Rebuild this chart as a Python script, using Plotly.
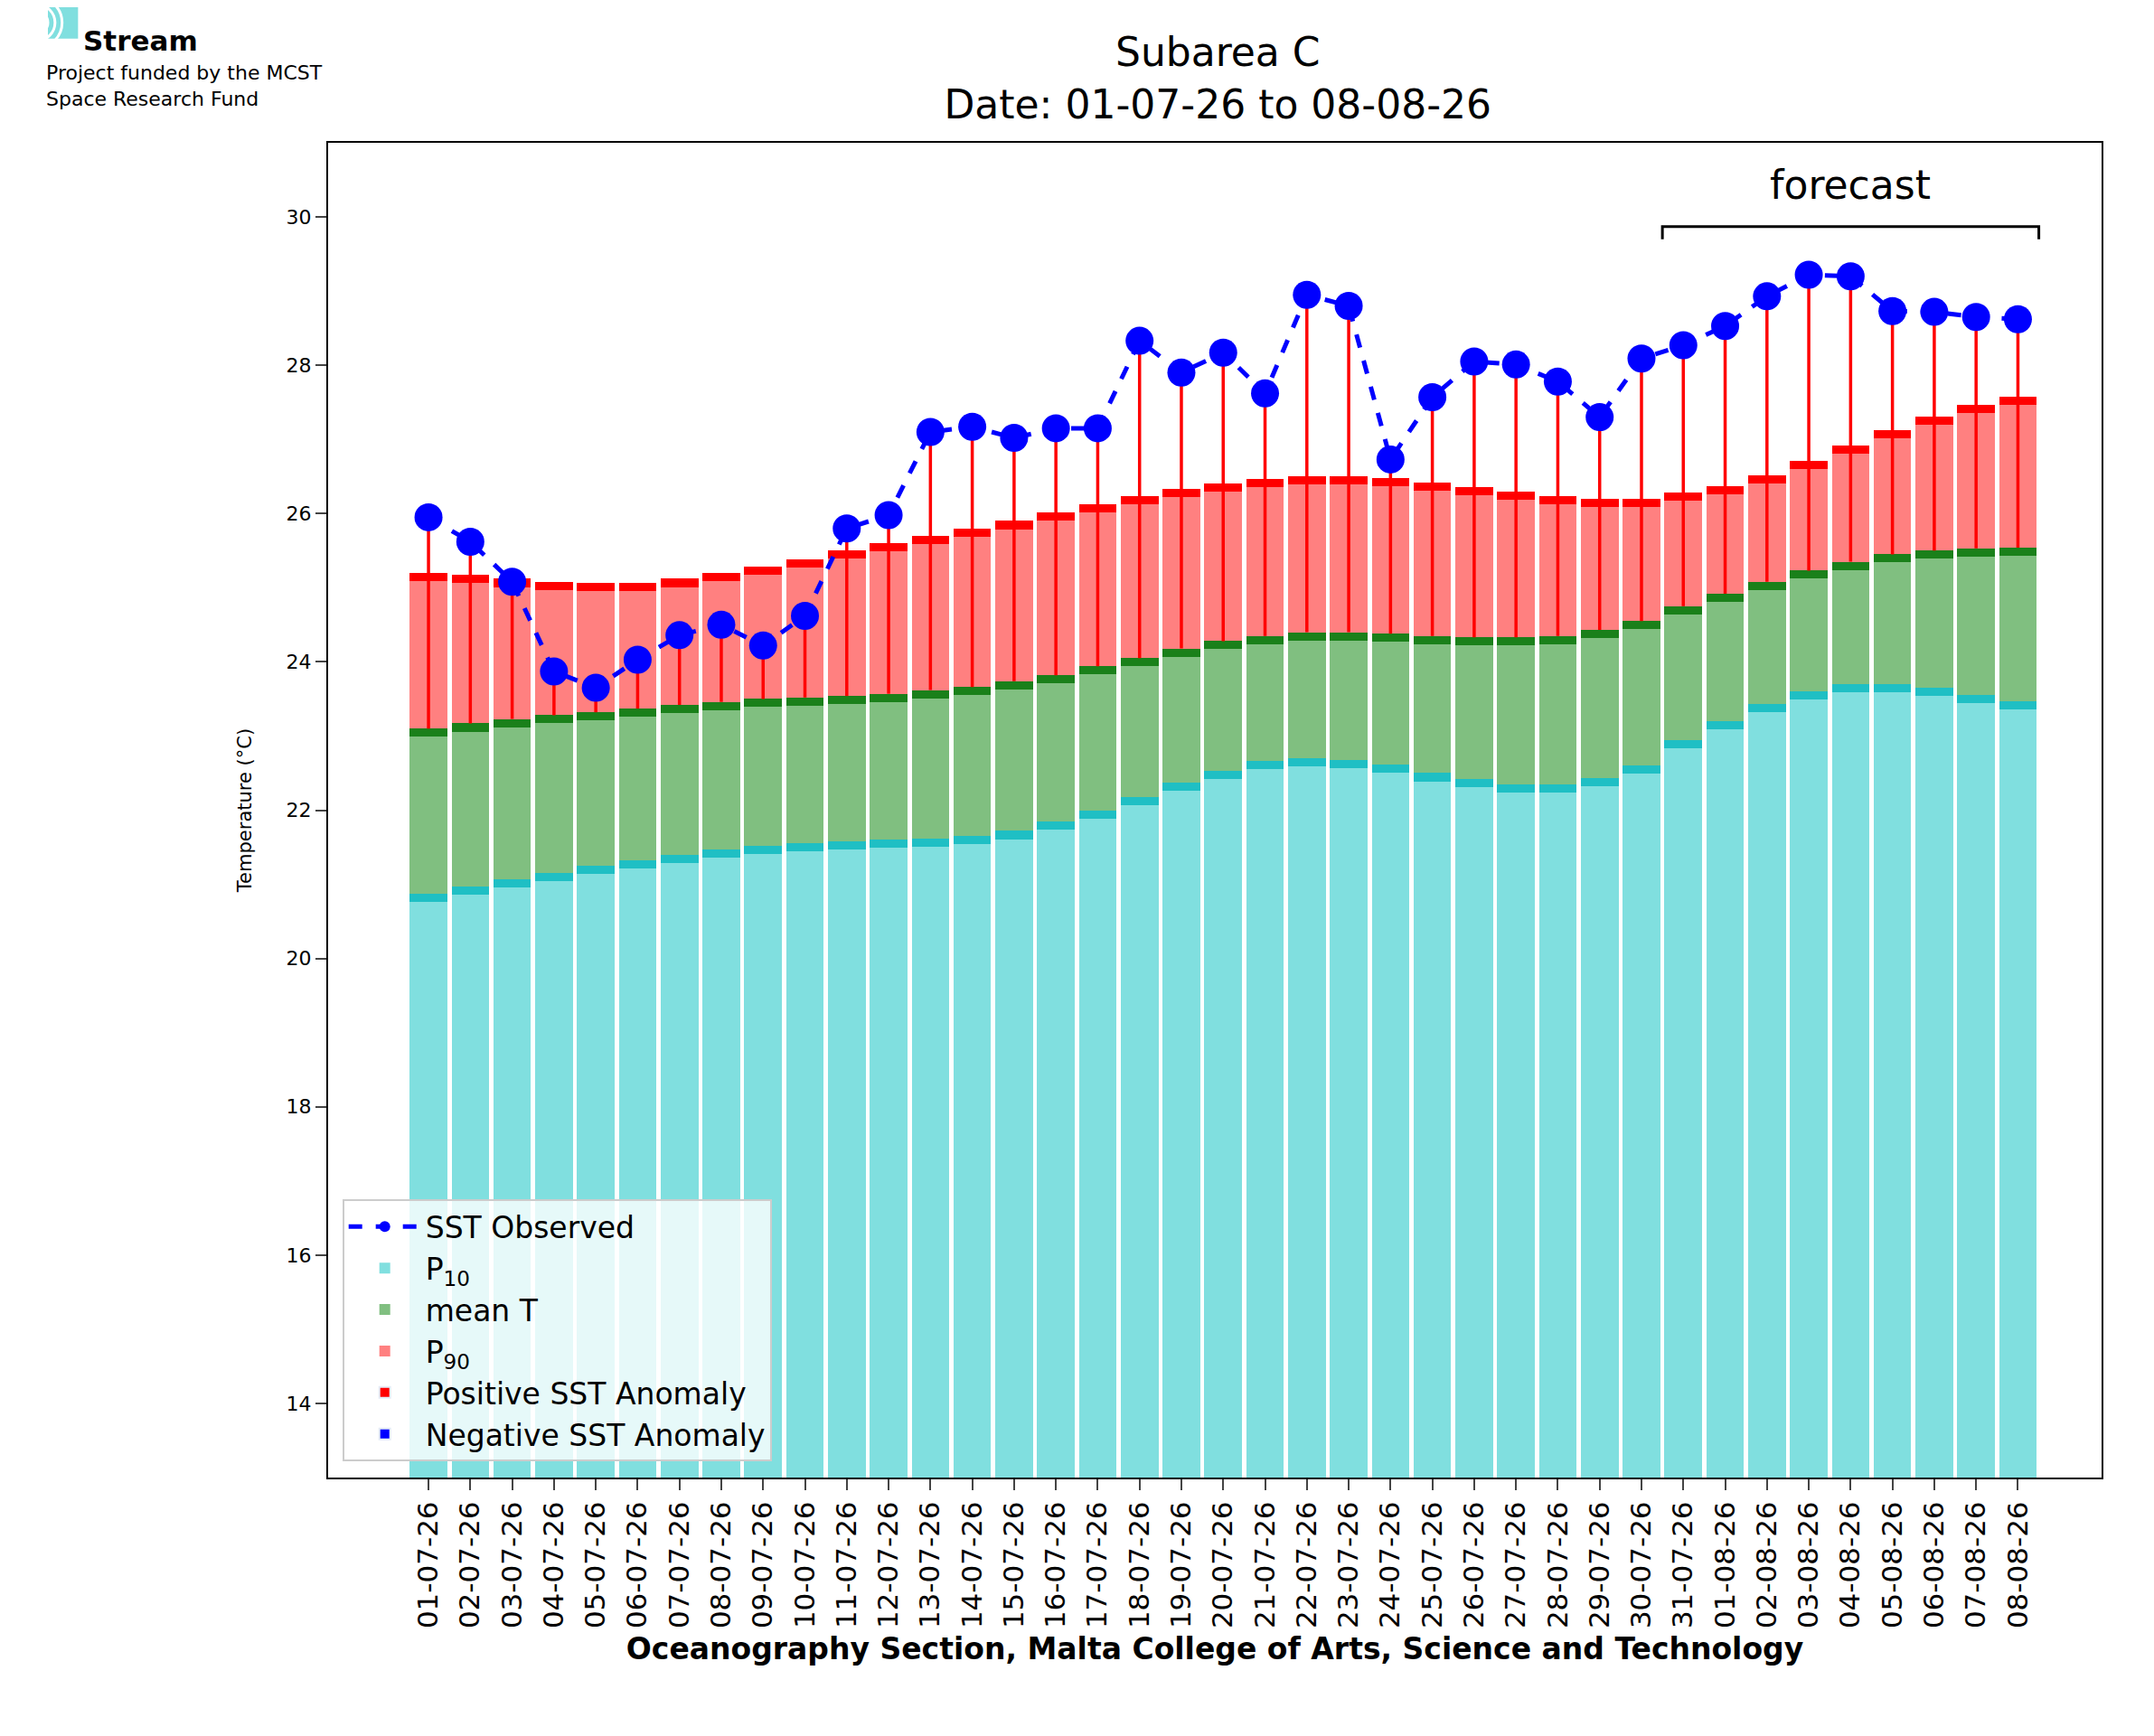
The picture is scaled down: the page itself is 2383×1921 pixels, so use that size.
import plotly.graph_objects as go

dates = ["01-07-26", "02-07-26", "03-07-26", "04-07-26", "05-07-26", "06-07-26", "07-07-26",
         "08-07-26", "09-07-26", "10-07-26", "11-07-26", "12-07-26", "13-07-26", "14-07-26",
         "15-07-26", "16-07-26", "17-07-26", "18-07-26", "19-07-26", "20-07-26", "21-07-26",
         "22-07-26", "23-07-26", "24-07-26", "25-07-26", "26-07-26", "27-07-26", "28-07-26",
         "29-07-26", "30-07-26", "31-07-26", "01-08-26", "02-08-26", "03-08-26", "04-08-26",
         "05-08-26", "06-08-26", "07-08-26", "08-08-26"]
forecast_start = "31-07-26"

sst_obs = [25.95, 25.62, 25.08, 23.87, 23.65, 24.03, 24.36, 24.50, 24.22, 24.62, 25.80, 25.98,
           27.10, 27.17, 27.02, 27.15, 27.15, 28.33, 27.90, 28.17, 27.62, 28.95, 28.80, 26.73,
           27.57, 28.05, 28.01, 27.78, 27.30, 28.09, 28.27, 28.53, 28.93, 29.22, 29.20, 28.73,
           28.72, 28.65, 28.62]
p90 = [25.20, 25.18, 25.12, 25.08, 25.06, 25.07, 25.12, 25.20, 25.28, 25.38, 25.50, 25.60,
       25.70, 25.80, 25.90, 26.02, 26.12, 26.23, 26.33, 26.40, 26.47, 26.50, 26.50, 26.48,
       26.42, 26.36, 26.30, 26.24, 26.20, 26.20, 26.28, 26.37, 26.52, 26.71, 26.92, 27.12,
       27.31, 27.47, 27.58]
mean_t = [23.10, 23.17, 23.23, 23.28, 23.32, 23.37, 23.42, 23.46, 23.50, 23.52, 23.54, 23.57,
          23.62, 23.66, 23.74, 23.82, 23.94, 24.05, 24.18, 24.28, 24.35, 24.40, 24.40, 24.38,
          24.35, 24.33, 24.33, 24.35, 24.43, 24.55, 24.75, 24.92, 25.08, 25.23, 25.35, 25.45,
          25.50, 25.53, 25.54]
p10 = [20.87, 20.97, 21.07, 21.15, 21.25, 21.32, 21.40, 21.47, 21.52, 21.55, 21.58, 21.60,
       21.62, 21.65, 21.72, 21.85, 22.00, 22.18, 22.37, 22.53, 22.66, 22.70, 22.68, 22.62,
       22.50, 22.42, 22.35, 22.35, 22.43, 22.60, 22.95, 23.20, 23.43, 23.60, 23.70, 23.70,
       23.65, 23.55, 23.47]

BAND = 0.11
W = 0.9
x = list(range(len(dates)))

fig = go.Figure()


def band_bars(top, bottom, fill, edge, name):
    fig.add_trace(go.Bar(x=x, y=[t - b for t, b in zip(top, bottom)], base=bottom, width=W,
                         marker_color=fill, marker_line_width=0, name=name))
    fig.add_trace(go.Bar(x=x, y=[BAND] * len(x), base=[t - BAND for t in top], width=W,
                         marker_color=edge, marker_line_width=0, showlegend=False))


band_bars(p10, [0] * len(x), "#80dfdf", "#1fbfc4", "P<sub>10</sub>")
band_bars(mean_t, p10, "#80bf80", "#1a801a", "mean T")
band_bars(p90, mean_t, "#ff8080", "#ff0000", "P<sub>90</sub>")

pos_x, pos_y, neg_x, neg_y = [], [], [], []
for i, (o, m) in enumerate(zip(sst_obs, mean_t)):
    if o >= m:
        pos_x += [i, i, None]
        pos_y += [m, o, None]
    else:
        neg_x += [i, i, None]
        neg_y += [m, o, None]
fig.add_trace(go.Scatter(x=pos_x, y=pos_y, mode="lines", line=dict(color="red", width=3.5),
                         showlegend=False))
if neg_x:
    fig.add_trace(go.Scatter(x=neg_x, y=neg_y, mode="lines", line=dict(color="blue", width=3.5),
                             showlegend=False))

fig.add_trace(go.Scatter(x=x, y=sst_obs, mode="lines+markers", name="SST Observed",
                         line=dict(color="blue", width=5, dash="dash"),
                         marker=dict(color="blue", size=31)))
fig.add_trace(go.Bar(x=[None], y=[None], marker_color="red", name="Positive SST Anomaly"))
fig.add_trace(go.Bar(x=[None], y=[None], marker_color="blue", name="Negative SST Anomaly"))

# forecast bracket
fs = dates.index(forecast_start) - 0.5
fe = len(dates) - 0.5
fig.add_shape(type="path", xref="x", yref="y",
              path=f"M {fs},29.7 L {fs},29.87 L {fe},29.87 L {fe},29.7",
              line=dict(color="black", width=3))
fig.add_annotation(x=(fs + fe) / 2, y=30.1, text="forecast", showarrow=False, yanchor="bottom",
                   font=dict(size=44, color="black"))

# logo
fig.add_shape(type="rect", xref="paper", yref="paper", x0=-0.158, x1=-0.141, y0=1.078, y1=1.102,
              fillcolor="#80dfdf", line_width=0)
for r in (0.006, 0.010, 0.014):
    fig.add_shape(type="circle", xref="paper", yref="paper", x0=-0.164 - r, x1=-0.164 + r,
                  y0=1.090 - r * 1.35, y1=1.090 + r * 1.35, line=dict(color="white", width=3))
fig.add_shape(type="rect", xref="paper", yref="paper", x0=-0.2, x1=-0.158, y0=1.072, y1=1.107,
              fillcolor="white", line_width=0)
fig.add_annotation(xref="paper", yref="paper", x=-0.139, y=1.090, text="<b>Stream</b>",
                   showarrow=False, xanchor="left", font=dict(size=31, color="black"))
fig.add_annotation(xref="paper", yref="paper", x=-0.160, y=1.062,
                   text="Project funded by the MCST<br>Space Research Fund", showarrow=False,
                   xanchor="left", yanchor="top", align="left", font=dict(size=22, color="black"))

fig.update_layout(
    width=2383, height=1921,
    paper_bgcolor="white", plot_bgcolor="white",
    barmode="overlay", bargap=0,
    font=dict(family="DejaVu Sans", color="black", size=20),
    title=dict(text="Subarea C<br>Date: 01-07-26 to 08-08-26", x=0.562, xanchor="center",
               y=0.966, yanchor="top", font=dict(size=44)),
    margin=dict(l=355, r=66, t=150, b=294),
    showlegend=True,
    legend=dict(x=0.008, y=0.012, xanchor="left", yanchor="bottom", bgcolor="rgba(255,255,255,0.8)",
                bordercolor="#cccccc", borderwidth=2, font=dict(size=33), traceorder="normal",
                itemsizing="constant", itemwidth=80),
    xaxis=dict(range=[-2.4, len(dates) + 1.0], tickmode="array", tickvals=x, ticktext=dates,
               tickangle=-90, ticks="outside", ticklen=12, tickwidth=2, showgrid=False,
               showline=True, linecolor="black", linewidth=2, mirror=True,
               tickfont=dict(size=31),
               title=dict(text="<b>Oceanography Section, Malta College of Arts, Science and Technology</b>",
                          font=dict(size=33), standoff=12)),
    yaxis=dict(range=[13, 31], dtick=2, tick0=14, ticks="outside", ticklen=12, tickwidth=2,
               showgrid=False, zeroline=False, showline=True, linecolor="black", linewidth=2,
               mirror=True, tickfont=dict(size=22),
               title=dict(text="Temperature (°C)", font=dict(size=21), standoff=32)),
)

order = ["SST Observed", "P<sub>10</sub>", "mean T", "P<sub>90</sub>",
         "Positive SST Anomaly", "Negative SST Anomaly"]
for t in fig.data:
    if t.name in order and t.showlegend is not False:
        t.legendrank = order.index(t.name) + 1

fig.write_html("out.html")
